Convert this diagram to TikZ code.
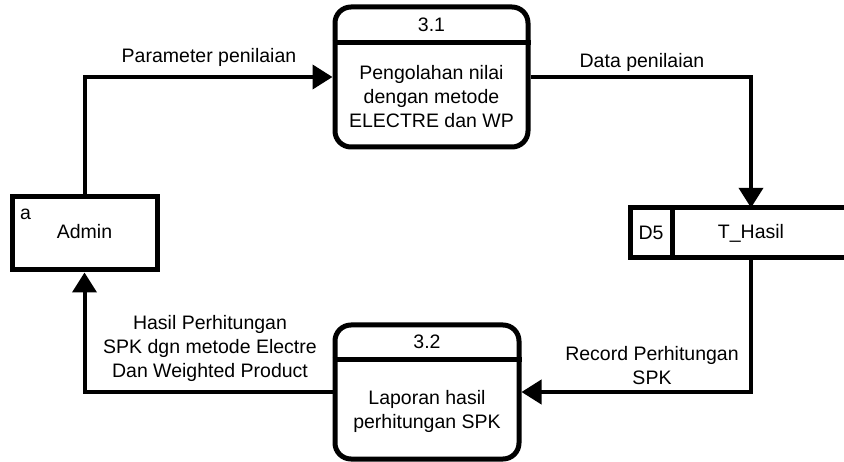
\documentclass[tikz,border=0pt]{standalone}
\usepackage{fontspec}
\setmainfont{Liberation Sans}
\usetikzlibrary{arrows.meta}
\begin{document}
\begin{tikzpicture}[x=1pt,y=-1pt,
  every node/.style={font=\fontsize{19.5}{24}\selectfont, inner sep=0pt, align=center},
  box/.style={draw, line width=5pt},
  proc/.style={draw, line width=5pt, rounded corners=16pt},
  divline/.style={line width=5pt},
  flow/.style={line width=4pt, -{Triangle[length=20pt,width=24pt]}},
  lbl/.style={}]
\useasboundingbox (0,0) rectangle (844,462);
% external entity
\node[box, minimum width=145pt, minimum height=73pt] (admin) at (84.5,233.5) {};
\node (admintxt) at (84.5,232) {Admin};
\node[anchor=west] (admina) at (20,214) {a};
% process 3.1
\node[proc, minimum width=193pt, minimum height=140pt] (p1) at (431.5,77) {};
\draw[divline] (p1.west |- 0,43) -- (p1.east |- 0,43);
\node (p1num) at (431.5,25) {3.1};
\node (p1txt) at (431.5,97) {Pengolahan nilai\\dengan metode\\ELECTRE dan WP};
% process 3.2
\node[proc, minimum width=184pt, minimum height=134pt] (p2) at (427,392) {};
\draw[divline] (p2.west |- 0,360) -- (p2.east |- 0,360);
\node (p2num) at (427,342) {3.2};
\node (p2txt) at (427,411) {Laporan hasil\\perhitungan SPK};
% data store
\draw[box] (844,208) -- (630,208) -- (630,258) -- (844,258);
\draw[divline] (672,208) -- (672,258);
\node (d5) at (651,233) {D5};
\node[minimum width=158pt, minimum height=50pt] (store) at (751,233) {T\_Hasil};
% flows
\draw[flow] (admin.north) |- (p1.west);
\draw[flow] (p1.east) -| (store.north);
\draw[flow] (store.south) |- (p2.east);
\draw[flow] (p2.west) -| (admin.south);
% labels
\node[lbl] (l1) at (209,57) {Parameter penilaian};
\node[lbl] (l2) at (642,62) {Data penilaian};
\node[lbl] (l3) at (652,366) {Record Perhitungan\\SPK};
\node[lbl] (l4) at (210,348) {Hasil Perhitungan\\SPK dgn metode Electre\\Dan Weighted Product};
\end{tikzpicture}
\end{document}
